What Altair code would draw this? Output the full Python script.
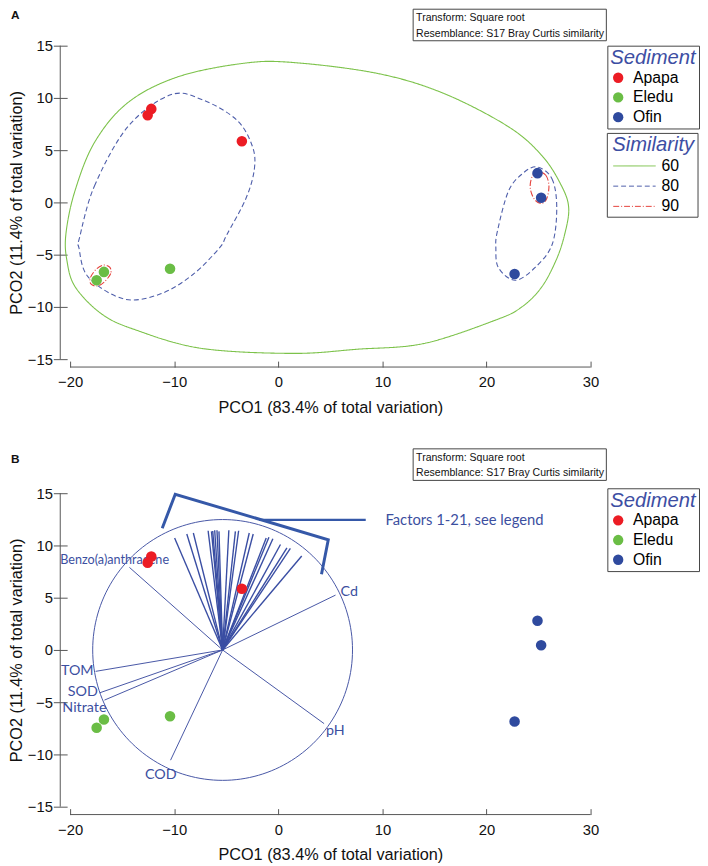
import altair as alt
import pandas as pd
import numpy as np

# ---------------- data ----------------
sediment = ["Apapa", "Apapa", "Apapa", "Eledu", "Eledu", "Eledu", "Ofin", "Ofin", "Ofin"]
pco1 = [-12.2, -12.55, -3.5, -16.75, -17.45, -10.4, 24.9, 25.25, 22.7]
pco2 = [8.95, 8.35, 5.85, -6.65, -7.45, -6.35, 2.8, 0.45, -6.85]

sed_domain = ["Apapa", "Eledu", "Ofin"]
sed_colors = ["#ec1c24", "#6abd45", "#2f4a9e"]

x_ticks = [-20, -10, 0, 10, 20, 30]
y_ticks = [-15, -10, -5, 0, 5, 10, 15]

# similarity contour outlines (PCO1, PCO2)
c60_x = [-20.4, -19.55, -17.65, -14.45, -9.7, -3.45, 1.3, 9.5, 15.85, 22.1, 25.35, 27.2, 27.9,
         27.5, 26.7, 25.3, 23.4, 20.9, 14.0, 7.6, 1.3, -7.5, -13.85, -17.0, -19.5, -20.3]
c60_y = [-3.0, 1.05, 5.75, 9.55, 12.0, 13.3, 13.4, 12.35, 10.45, 7.25, 4.45, 1.6, -0.55,
         -3.1, -5.5, -8.1, -10.0, -11.25, -13.5, -14.05, -14.45, -13.95, -12.15, -10.65, -8.1, -5.6]
c80a_x = [-19.1, -17.65, -14.45, -10.35, -7.25, -4.0, -2.5, -2.3, -3.1, -4.95, -5.65, -8.2,
          -11.3, -14.8, -18.25, -19.15]
c80a_y = [-3.4, 1.6, 7.25, 10.3, 9.8, 7.9, 5.4, 3.2, 0.4, -3.1, -4.35, -6.9, -8.75, -9.25,
          -7.15, -4.35]
c80b_x = [24.85, 26.3, 26.75, 26.3, 24.65, 22.75, 21.15, 20.9, 21.05, 22.1, 23.45]
c80b_y = [3.4, 2.25, -0.55, -4.05, -6.25, -7.45, -6.25, -4.35, -2.75, 1.05, 2.75]
c90a_x = [24.95, 25.7, 26.0, 25.8, 25.3, 24.6, 24.2, 24.4]
c90a_y = [2.95, 2.6, 1.6, 0.4, -0.1, 0.3, 1.4, 2.5]
c90b_x = [-16.2, -16.1, -16.7, -17.4, -18.0, -18.05, -17.5, -16.8]
c90b_y = [-6.2, -6.8, -7.6, -8.0, -7.8, -7.2, -6.4, -6.0]

sim_levels = ["60", "80", "90"]
sim_colors = ["#7cc24a", "#4e5eaa", "#e5413b"]
sim_dashes = [[1, 0], [5, 3], [6, 2, 1, 2]]

# PCO vectors (panel B)
vec_origin = (-5.35, 0.0)
vec_names = ["Benzo(a)anthracene", "Cd", "TOM", "SOD", "Nitrate", "pH", "COD"]
vec_x = [-14.3, 5.5, -17.55, -17.15, -16.7, 4.4, -10.35]
vec_y = [7.9, 5.25, -2.05, -4.1, -4.8, -7.05, -10.55]
fan_x = [-9.96, -8.79, -8.16, -6.74, -6.42, -6.11, -5.89, -5.70, -4.75, -4.12, -3.81, -2.79,
         -2.41, -1.16, -0.90, -0.52, 0.21, 0.83, 1.16, 2.25, -6.30]
fan_y = [10.72, 11.10, 11.19, 11.41, 11.35, 11.45, 11.45, 11.35, 11.45, 11.35, 11.41, 11.19,
         11.10, 10.72, 10.79, 10.65, 10.09, 9.77, 9.71, 8.99, 11.38]
circle_center = (-5.35, 0.0)
circle_radius = 12.48
bracket_x = [-11.15, -9.9, 4.8, 4.15]
bracket_y = [11.65, 14.9, 10.55, 7.25]
pointer_x = [-1.85, 8.4]
pointer_y = [12.45, 12.45]

# ---------------- styles ----------------
F = "Liberation Sans"
LF = "Lato"
BLUE_T = "#3d4ea3"
VBLUE = "#4655a5"
LBLUE = "#3c4f9f"
AX = "#555"
W, H = 528, 318
XS = alt.Scale(domain=[-20, 30], nice=False, zero=False)
YS = alt.Scale(domain=[-15, 15], nice=False, zero=False)


def x_enc():
    # ticks hang upward from a detached baseline drawn 8px below the plot
    return alt.X("x:Q", scale=XS,
                 axis=alt.Axis(values=x_ticks, title="PCO1 (83.4% of total variation)", grid=False,
                               domain=False, offset=2, tickSize=6, tickColor=AX,
                               labelFont=F, labelFontSize=15, labelColor="#111", labelPadding=8,
                               titleFont=F, titleFontSize=16.5, titleFontWeight="normal",
                               titleColor="#111", titlePadding=10, labelFlush=False))


def y_enc():
    # ticks cross a detached vertical line drawn 10px left of the plot
    return alt.Y("y:Q", scale=YS,
                 axis=alt.Axis(values=y_ticks, title="PCO2 (11.4% of total variation)", grid=False,
                               domain=False, offset=3, tickSize=14, tickColor=AX,
                               labelFont=F, labelFontSize=15, labelColor="#111", labelPadding=1,
                               titleFont=F, titleFontSize=16.5, titleFontWeight="normal",
                               titleColor="#111", titlePadding=3, labelFlush=False))


def axis_lines():
    xl = alt.Chart(alt.Data(values=[{"k": 1}])).mark_rule(color=AX, strokeWidth=1).encode(
        x=alt.value(0), x2=alt.value(W), y=alt.value(H + 8))
    yl = alt.Chart(alt.Data(values=[{"k": 1}])).mark_rule(color=AX, strokeWidth=1).encode(
        x=alt.value(-10), y=alt.value(0), y2=alt.value(H))
    return [xl, yl]


def sed_legend(ly):
    return alt.Legend(orient="none", legendX=545, legendY=ly, title="Sediment",
                      titleFont=F, titleFontSize=20.5, titleFontStyle="italic", titleFontWeight="normal",
                      titleColor=BLUE_T, labelFont=F, labelFontSize=16, labelColor="black",
                      symbolType="circle", symbolSize=110, symbolStrokeWidth=0,
                      strokeColor="#444", fillColor="white", padding=3, rowPadding=4,
                      titlePadding=1, labelOffset=7)


pts = pd.DataFrame({"x": pco1, "y": pco2, "Sediment": sediment})


def points_layer(ly):
    return alt.Chart(pts).mark_circle(size=115, opacity=1).encode(
        x=x_enc(), y=y_enc(),
        color=alt.Color("Sediment:N", scale=alt.Scale(domain=sed_domain, range=sed_colors),
                        legend=sed_legend(ly)))


def one_text(t, x, y, **kw):
    return alt.Chart(alt.Data(values=[{"t": t}])).mark_text(**kw).encode(
        x=alt.value(x), y=alt.value(y), text="t:N")


def info_box(top):
    box = alt.Chart(alt.Data(values=[{"k": 1}])).mark_rect(
        fill="white", stroke="#444", strokeWidth=1).encode(
        x=alt.value(348), x2=alt.value(544), y=alt.value(top), y2=alt.value(top + 32))
    t1 = one_text("Transform: Square root", 351, top + 9, align="left", baseline="middle",
                  font=F, fontSize=10.7, color="#111")
    t2 = one_text("Resemblance: S17 Bray Curtis similarity", 351, top + 25, align="left",
                  baseline="middle", font=F, fontSize=10.7, color="#111")
    return [box, t1, t2]


def panel_label(letter, y):
    return one_text(letter, -60, y, align="left", baseline="middle", font=F, fontSize=12,
                    fontWeight="bold", color="#111")


# ---------------- panel A ----------------
rows = []
for cid, (lvl, xs, ys) in enumerate([("60", c60_x, c60_y), ("80", c80a_x, c80a_y),
                                      ("80", c80b_x, c80b_y), ("90", c90a_x, c90a_y),
                                      ("90", c90b_x, c90b_y)]):
    for i, (a, b) in enumerate(zip(xs, ys)):
        rows.append({"cid": cid, "Similarity": lvl, "idx": i, "x": a, "y": b})
cont = pd.DataFrame(rows)

contour_layer = alt.Chart(cont).mark_line(interpolate="cardinal-closed", strokeWidth=1.1).encode(
    x=x_enc(), y=y_enc(), detail="cid:N", order="idx:Q",
    stroke=alt.Stroke("Similarity:N", scale=alt.Scale(domain=sim_levels, range=sim_colors),
                      legend=None),
    strokeDash=alt.StrokeDash("Similarity:N", scale=alt.Scale(domain=sim_levels, range=sim_dashes),
                              legend=None))

# hand-built "Similarity" legend box (line samples with their dash styles)
LX, LY = 545, 89
sim_leg = [
    alt.Chart(alt.Data(values=[{"k": 1}])).mark_rect(fill="white", stroke="#444", strokeWidth=1).encode(
        x=alt.value(LX), x2=alt.value(LX + 92), y=alt.value(LY), y2=alt.value(LY + 85)),
    one_text("Similarity", LX + 5, LY + 12, align="left", baseline="middle", font=F, fontSize=20.5,
             fontStyle="italic", color=BLUE_T),
]
for i, lvl in enumerate(sim_levels):
    ry = LY + 33 + i * 20.5
    sim_leg.append(alt.Chart(alt.Data(values=[{"k": 1}])).mark_rule(
        color=sim_colors[i], strokeWidth=1, strokeDash=sim_dashes[i]).encode(
        x=alt.value(LX + 6), x2=alt.value(LX + 49), y=alt.value(ry)))
    sim_leg.append(one_text(lvl, LX + 55, ry, align="left", baseline="middle", font=F,
                            fontSize=16, color="black"))

panelA = alt.layer(contour_layer, points_layer(0), *axis_lines(), *info_box(-37), *sim_leg,
                   panel_label("A", -31)).properties(width=W, height=H)

# ---------------- panel B ----------------
theta = np.linspace(0, 2 * np.pi, 181)
circ = pd.DataFrame({"x": circle_center[0] + circle_radius * np.cos(theta),
                     "y": circle_center[1] + circle_radius * np.sin(theta),
                     "idx": np.arange(len(theta))})
circle_layer = alt.Chart(circ).mark_line(color=VBLUE, strokeWidth=1).encode(
    x=x_enc(), y=y_enc(), order="idx:Q")

vec = pd.DataFrame({"name": vec_names, "x": vec_origin[0], "y": vec_origin[1],
                    "x2": vec_x, "y2": vec_y})
vec_layer = alt.Chart(vec).mark_rule(color=VBLUE, strokeWidth=1).encode(
    x=x_enc(), y=y_enc(), x2="x2:Q", y2="y2:Q")

fan = pd.DataFrame({"x": vec_origin[0], "y": vec_origin[1], "x2": fan_x, "y2": fan_y})
fan_layer = alt.Chart(fan).mark_rule(color="#3a4ea3", strokeWidth=1.4).encode(
    x=x_enc(), y=y_enc(), x2="x2:Q", y2="y2:Q")

br = pd.DataFrame({"x": bracket_x, "y": bracket_y, "idx": range(len(bracket_x))})
bracket_layer = alt.Chart(br).mark_line(color="#3558a8", strokeWidth=3).encode(
    x=x_enc(), y=y_enc(), order="idx:Q")
ptr = pd.DataFrame({"x": [pointer_x[0]], "y": [pointer_y[0]], "x2": [pointer_x[1]], "y2": [pointer_y[1]]})
pointer_layer = alt.Chart(ptr).mark_rule(color="#3558a8", strokeWidth=2.5).encode(
    x=x_enc(), y=y_enc(), x2="x2:Q", y2="y2:Q")

factor_text = alt.Chart(pd.DataFrame({"x": [pointer_x[1]], "y": [pointer_y[1]],
                                      "t": ["Factors 1-21, see legend"]})).mark_text(
    align="left", baseline="middle", dx=20, font=LF, fontSize=15, color=LBLUE).encode(
    x=x_enc(), y=y_enc(), text="t:N")

labels = pd.DataFrame({"name": vec_names, "x": vec_x, "y": vec_y})
label_style = {
    "Benzo(a)anthracene": dict(align="center", dx=-15, dy=-7, fontSize=12.8),
    "Cd": dict(align="left", dx=5, dy=-3, fontSize=14.5),
    "TOM": dict(align="right", dx=-2, dy=0, fontSize=14.5),
    "SOD": dict(align="right", dx=-2, dy=-1, fontSize=14.5),
    "Nitrate": dict(align="right", dx=2, dy=8, fontSize=14.5),
    "pH": dict(align="left", dx=2, dy=8, fontSize=14.5),
    "COD": dict(align="center", dx=-10, dy=15, fontSize=14.5),
}
label_layers = []
for n in vec_names:
    st = label_style[n]
    label_layers.append(
        alt.Chart(labels).transform_filter(alt.datum.name == n).mark_text(
            baseline="middle", font=LF, color=LBLUE, **st).encode(
            x=x_enc(), y=y_enc(), text="name:N"))

panelB = alt.layer(circle_layer, vec_layer, fan_layer, bracket_layer, pointer_layer, factor_text,
                   *label_layers, points_layer(-5), *axis_lines(), *info_box(-45),
                   panel_label("B", -35)).properties(width=W, height=H)

chart = alt.vconcat(panelA, panelB, spacing=32).resolve_scale(
    color="independent").resolve_legend(color="independent").properties(
    padding={"left": 0, "top": -6, "right": 0, "bottom": 0}).configure_view(stroke=None)

chart.save("out.html", embed_options={"renderer": "svg", "actions": False})
